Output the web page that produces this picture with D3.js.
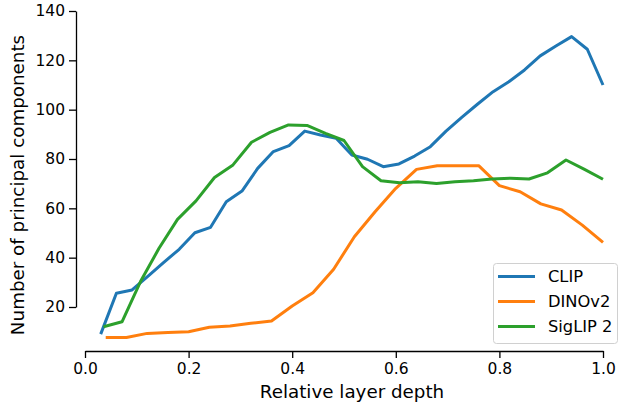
<!DOCTYPE html>
<html>
<head>
<meta charset="utf-8">
<script src="https://cdn.jsdelivr.net/npm/d3@7"></script>
<style>
    body { margin: 0; background: #fff; }
    text { font-family: "DejaVu Sans", sans-serif; fill: #000; }
    .line { fill: none; stroke-width: 3; stroke-linejoin: round; }
</style>
</head>
<body>
<script>
//principal components per layer
var clipValues = [9, 25.6, 26.9, 32.4, 38, 43.4, 50.1, 52.3, 62.7, 67, 76.2, 83, 85.4, 91.3, 89.7, 88.4,
    81.6, 79.9, 76.9, 78, 81.2, 85, 91.3, 96.9, 102.2, 107.3, 111.3, 116.1, 121.8, 125.8, 129.6, 124.5, 110];
var dinoValues = [7.6, 7.6, 9.3, 9.7, 10, 11.8, 12.3, 13.4, 14.3, 20.4, 25.8, 35.3, 48.5, 58.6, 68.1,
    75.8, 77.3, 77.3, 77.3, 69.2, 66.7, 61.8, 59.3, 53.2, 46.2];
var siglipValues = [12, 14, 30.3, 43.8, 55.5, 63, 72.5, 77.6, 86.8, 90.8, 93.8, 93.6, 90.4, 87.5,
    76.9, 71.2, 70.4, 70.8, 70.1, 70.8, 71.2, 71.9, 72.2, 71.9, 74.4, 79.6, 75.8, 71.8];

var seriesNames = ["CLIP", "DINOv2", "SigLIP 2"];
var seriesColors = ["#1f77b4", "#ff7f0e", "#2ca02c"];
var xTicks = [0, 0.2, 0.4, 0.6, 0.8, 1.0];
var yTicks = [20, 40, 60, 80, 100, 120, 140];

window.onload = drawChart();

function drawChart() {

    var width = 618,
        height = 402;

    var svg = d3.select("body")
        .append("svg")
        .attr("width", width)
        .attr("height", height);

    //scales
    var x = d3.scaleLinear().domain([0, 1]).range([85, 603]);
    var y = d3.scaleLinear().domain([20, 140]).range([307, 11]);

    //offset spines, trimmed to the ticks
    var xAxisY = 351,
        yAxisX = 76;

    var xAxis = svg.append("g")
        .attr("transform", "translate(0," + xAxisY + ")")
        .call(d3.axisBottom(x).tickValues(xTicks).tickFormat(d3.format(".1f")).tickSize(7).tickSizeOuter(0));

    var yAxis = svg.append("g")
        .attr("transform", "translate(" + yAxisX + ",0)")
        .call(d3.axisLeft(y).tickValues(yTicks).tickFormat(d3.format("d")).tickSize(7).tickSizeOuter(0));

    [xAxis, yAxis].forEach(function (g) {
        g.select(".domain").attr("stroke", "#000").attr("stroke-width", 1.3);
        g.selectAll(".tick line").attr("stroke", "#000").attr("stroke-width", 1.3);
        g.selectAll(".tick text").style("font-size", "15.5px").attr("fill", "#000")
            .attr("font-family", "DejaVu Sans");
    });
    xAxis.selectAll(".tick text").attr("dy", "0.75em").attr("y", 11);
    yAxis.selectAll(".tick text").attr("x", -11);

    //axis titles
    svg.append("text")
        .attr("x", 352)
        .attr("y", 398)
        .attr("text-anchor", "middle")
        .style("font-size", "18.3px")
        .text("Relative layer depth");

    svg.append("text")
        .attr("transform", "translate(24,185) rotate(-90)")
        .attr("text-anchor", "middle")
        .style("font-size", "18.3px")
        .text("Number of principal components");

    //lines: relative depth = layer / number of layers
    var series = [clipValues, dinoValues, siglipValues];
    var line = d3.line()
        .x(function (d, i, arr) { return x((i + 1) / arr.length); })
        .y(function (d) { return y(d); });

    series.forEach(function (values, k) {
        svg.append("path")
            .datum(values)
            .attr("class", "line")
            .attr("stroke", seriesColors[k])
            .attr("d", line);
    });

    //legend
    var legend = svg.append("g").attr("transform", "translate(493,263)");
    legend.append("rect")
        .attr("x", 0.5).attr("y", 0.5)
        .attr("width", 124).attr("height", 80)
        .attr("rx", 3)
        .attr("fill", "#fff").attr("fill-opacity", 0.8)
        .attr("stroke", "#d0d0d0");

    seriesNames.forEach(function (name, k) {
        var ly = 13.5 + k * 25;
        legend.append("line")
            .attr("x1", 5).attr("x2", 42)
            .attr("y1", ly).attr("y2", ly)
            .attr("stroke", seriesColors[k])
            .attr("stroke-width", 3);
        legend.append("text")
            .attr("x", 55)
            .attr("y", ly)
            .attr("dy", "0.36em")
            .style("font-size", "16.3px")
            .text(name);
    });
};
</script>
</body>
</html>
